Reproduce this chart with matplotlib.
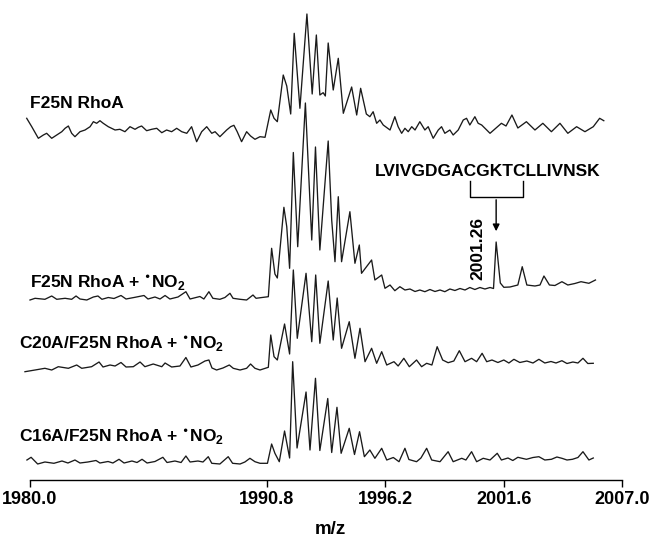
import matplotlib
matplotlib.use('Agg')
import matplotlib.pyplot as plt

plt.rcParams['font.family'] = ['Liberation Sans', 'DejaVu Sans']
plt.rcParams['mathtext.default'] = 'regular'

tick_mz = [1980.0, 1990.8, 1996.2, 2001.6, 2007.0]

# F25N RhoA
mz_a = [1979.85, 1980.08, 1980.38, 1980.61, 1980.76, 1980.99, 1981.22, 1981.45, 1981.60, 1981.75,
        1981.90, 1982.05, 1982.28, 1982.51, 1982.74, 1982.89, 1983.04, 1983.19, 1983.34, 1983.57,
        1983.88, 1984.10, 1984.33, 1984.56, 1984.79, 1984.94, 1985.09, 1985.32, 1985.55, 1985.78,
        1986.01, 1986.23, 1986.46, 1986.69, 1986.92, 1987.15, 1987.37, 1987.60, 1987.83, 1988.06,
        1988.29, 1988.44, 1988.66, 1988.97, 1989.15, 1989.30, 1989.45, 1989.65, 1989.88, 1990.06,
        1990.26, 1990.49, 1990.72, 1990.98, 1991.13, 1991.28, 1991.55, 1991.71, 1991.89, 1992.05,
        1992.31, 1992.63, 1992.87, 1993.06, 1993.22, 1993.37, 1993.47, 1993.60, 1993.83, 1994.06,
        1994.29, 1994.67, 1994.90, 1995.08, 1995.34, 1995.50, 1995.65, 1995.81, 1995.96, 1996.11,
        1996.42, 1996.64, 1996.79, 1996.95, 1997.10, 1997.25, 1997.41, 1997.56, 1997.78, 1998.01,
        1998.16, 1998.39, 1998.62, 1998.77, 1998.92, 1999.15, 1999.30, 1999.53, 1999.76, 1999.91,
        2000.06, 2000.29, 2000.44, 2000.60, 2000.83, 2000.98, 2001.50, 2001.71, 2001.98, 2002.25,
        2002.64, 2003.03, 2003.39, 2003.78, 2004.17, 2004.53, 2004.93, 2005.31, 2005.69, 2005.98,
        2006.17]
int_a = [23.7, 15.3, 3.7, 7, 8.7, 3.7, 7, 10.3, 13.7, 16,
         8.7, 5.3, 10.3, 12, 15.3, 20.3, 18.7, 21.3, 18.7, 15.3,
         12, 12.7, 10.3, 15.3, 12.7, 14.7, 16, 11.3, 12.7, 13.7,
         9.3, 12, 10.3, 13.7, 10.3, 8.7, 15.3, 0.3, 10.3, 15.3,
         8.7, 10.3, 5.3, 12, 15.3, 16.7, 10.3, 0.3, 10.3, 6,
         2.7, 5.3, 4.7, 32, 23.7, 20.3, 67, 56, 28, 108.7,
         33.7, 128, 48, 107, 47, 49.3, 46, 99, 52, 83.7,
         28.7, 55, 27, 53.7, 28, 25.3, 30.3, 18.7, 22, 17,
         12, 25.3, 15.3, 8.7, 13.7, 10.3, 15.3, 12, 20.3, 12,
         15.3, 3.7, 12, 15.3, 8.7, 12, 7, 12, 22, 23.7,
         17, 25.3, 18.7, 17, 12, 8.7, 18.7, 16, 27, 14,
         20.3, 12, 18.7, 10.3, 18.7, 8.7, 15.3, 10.3, 15.3, 23.7,
         21.3]

# F25N RhoA + NO2
mz_b = [1980.00, 1980.23, 1980.68, 1980.99, 1981.22, 1981.60, 1981.90, 1982.10, 1982.28, 1982.59,
        1982.89, 1983.10, 1983.28, 1983.57, 1983.83, 1984.15, 1984.38, 1984.79, 1985.20, 1985.38,
        1985.70, 1985.93, 1986.16, 1986.38, 1986.75, 1987.11, 1987.30, 1987.75, 1987.93, 1988.16,
        1988.34, 1988.66, 1988.89, 1989.12, 1989.26, 1989.58, 1989.88, 1990.17, 1990.31, 1990.58,
        1990.87, 1991.02, 1991.17, 1991.28, 1991.58, 1991.71, 1991.84, 1992.01, 1992.21, 1992.56,
        1992.85, 1993.02, 1993.22, 1993.60, 1993.76, 1993.91, 1994.06, 1994.21, 1994.59, 1994.82,
        1995.02, 1995.12, 1995.58, 1995.73, 1996.04, 1996.19, 1996.42, 1996.64, 1996.87, 1997.10,
        1997.33, 1997.56, 1997.78, 1998.01, 1998.24, 1998.47, 1998.70, 1998.92, 1999.15, 1999.38,
        1999.61, 1999.84, 2000.06, 2000.29, 2000.52, 2000.75, 2000.98, 2001.14, 2001.26, 2001.45,
        2001.61, 2001.89, 2002.25, 2002.45, 2002.66, 2003.03, 2003.26, 2003.44, 2003.69, 2003.94,
        2004.26, 2004.53, 2004.85, 2005.13, 2005.49, 2005.79]
int_b = [0, 1.7, 0.7, 4, 0.7, 1.7, 0.7, 4, 1, 0,
         3, 4, 0.7, 2.5, 1.5, 4.5, 1, 2.7, 4.5, 1,
         3, 1, 4.5, 1, 3, 8.3, 1, 3.5, 1, 8.3,
         1.7, 0.7, 2.5, 6.7, 1.7, 0.7, 0, 5, 1.7, 2.5,
         3.3, 51.7, 26, 22, 92.7, 73.3, 31.7, 147.5, 53.3, 197,
         60, 153, 50, 159, 80, 38.3, 103.3, 38.3, 88.3, 36.7,
         55, 26.7, 40, 20, 25, 11.7, 15, 9.3, 13.3, 10,
         11, 8.5, 10, 8.3, 10.5, 8.5, 10, 8.3, 11, 9.5,
         11.5, 10, 12.5, 10.5, 12.5, 11, 12.5, 11.5, 58, 17,
         12.7, 13, 15, 33.3, 15, 14, 15, 24, 15, 14.5,
         18.3, 15, 16.5, 18.3, 16.7, 20]

# C20A/F25N RhoA + NO2
mz_c = [1979.77, 1980.23, 1980.68, 1980.99, 1981.29, 1981.75, 1982.13, 1982.36, 1982.81, 1983.15,
        1983.33, 1983.65, 1983.88, 1984.15, 1984.38, 1984.71, 1985.02, 1985.24, 1985.62, 1986.01,
        1986.16, 1986.46, 1986.84, 1987.11, 1987.34, 1987.66, 1987.98, 1988.16, 1988.30, 1988.51,
        1988.80, 1989.09, 1989.27, 1989.58, 1989.88, 1990.06, 1990.26, 1990.49, 1990.87, 1990.98,
        1991.13, 1991.28, 1991.61, 1991.84, 1992.01, 1992.19, 1992.59, 1992.85, 1993.03, 1993.22,
        1993.60, 1993.83, 1994.01, 1994.21, 1994.56, 1994.82, 1995.05, 1995.28, 1995.58, 1995.81,
        1996.04, 1996.27, 1996.60, 1996.79, 1997.05, 1997.30, 1997.63, 1997.86, 1998.09, 1998.33,
        1998.57, 1998.82, 1999.07, 1999.33, 1999.58, 1999.84, 2000.14, 2000.37, 2000.62, 2000.83,
        2001.07, 2001.34, 2001.61, 2001.84, 2002.07, 2002.34, 2002.66, 2002.94, 2003.21, 2003.48,
        2003.76, 2003.99, 2004.26, 2004.49, 2004.76, 2004.99, 2005.22, 2005.44, 2005.69]
int_c = [-3.7, -2, -0.3, -2, 1.3, -0.3, 3, -0.3, 1.3, 6,
         1, 3, 2, 5.5, 1, 1.3, 6, 1.3, 4, 1.3,
         5, 1, 2, 10.5, 1, 3, 7, 8, 0, -2,
         0, 3, -0.3, -2, -0.3, 4, -0.3, -2, 0.7, 33,
         11.3, 8, 44, 14, 98, 29.7, 94.7, 26.3, 93, 24.7,
         87, 28, 70, 19.7, 46.3, 9.7, 39.7, 6.3, 19.7, 4.7,
         16.3, 3, 6.3, 2, 9.7, 1.3, 8, 1.3, 4.7, 3,
         21.3, 8, 5.3, 7, 17.3, 6.3, 9.7, 6.3, 14.7, 6.3,
         8, 5.5, 8, 5, 8.7, 5.5, 7, 5, 8.7, 5,
         6.5, 5, 7.3, 4.5, 6, 5, 9.7, 4.5, 4.7]

# C16A/F25N RhoA + NO2
mz_d = [1979.86, 1980.05, 1980.35, 1980.68, 1981.09, 1981.46, 1981.73, 1982.05, 1982.28, 1982.64,
        1983.01, 1983.19, 1983.56, 1983.78, 1984.06, 1984.29, 1984.65, 1984.88, 1985.11, 1985.34,
        1985.70, 1986.06, 1986.25, 1986.61, 1986.89, 1987.11, 1987.30, 1987.66, 1987.89, 1988.13,
        1988.29, 1988.66, 1989.04, 1989.24, 1989.58, 1989.80, 1990.03, 1990.26, 1990.49, 1990.83,
        1991.02, 1991.17, 1991.37, 1991.61, 1991.84, 1991.98, 1992.18, 1992.59, 1992.77, 1993.02,
        1993.22, 1993.58, 1993.76, 1994.00, 1994.19, 1994.56, 1994.80, 1995.03, 1995.25, 1995.50,
        1995.73, 1996.04, 1996.27, 1996.57, 1996.83, 1997.10, 1997.28, 1997.63, 1997.83, 1998.09,
        1998.32, 1998.70, 1999.07, 1999.30, 1999.69, 1999.88, 2000.14, 2000.37, 2000.67, 2000.98,
        2001.31, 2001.50, 2001.80, 2002.02, 2002.25, 2002.64, 2002.94, 2003.21, 2003.48, 2003.78,
        2004.03, 2004.26, 2004.49, 2004.74, 2004.99, 2005.22, 2005.36, 2005.49, 2005.69]
int_d = [4, 6.7, 0, 2, 0.7, 3, 1, 4, 1, 2,
         3.5, 1, 2.5, 1, 4.7, 1, 3, 1.5, 4.7, 1,
         2.5, 6.7, 1.5, 3, 1.5, 8, 2, 3, 2, 7.3,
         0.7, 0, 7.3, 0.7, 0, 2, 5.7, 2.3, 0.7, 0.7,
         20, 10.7, 2.3, 33, 6, 102.3, 16, 72, 14, 85.7,
         13.5, 65.5, 11.5, 56.7, 10.7, 35.7, 9.5, 32.3, 7.3, 14,
         5.7, 15.7, 4, 6.5, 2.3, 15.7, 4.5, 2.3, 6, 15.7,
         4, 2.3, 12.3, 2.3, 5.7, 4, 12.3, 2.3, 5.7, 4,
         10.7, 4, 6, 3.5, 6.7, 4.7, 6.5, 7.3, 4, 4.7,
         7, 5.7, 4, 4.7, 6.5, 12.3, 8, 4, 6]

names = ['F25N RhoA',
         'F25N RhoA + $^{\u2022}$NO$_2$',
         'C20A/F25N RhoA + $^{\u2022}$NO$_2$',
         'C16A/F25N RhoA + $^{\u2022}$NO$_2$']

peptide = 'LVIVGDGACGKTCLLIVNSK'
peak_mz = 2001.26

fig = plt.figure(figsize=(6.52, 5.44), dpi=100)
ax = fig.add_axes([30 / 652, 64 / 544, 592 / 652, 480 / 544])

traces = [(mz_a, int_a), (mz_b, int_b), (mz_c, int_c), (mz_d, int_d)]
offsets = [338, 180, 112, 16]
label_x = [1980.0, 1980.0, 1979.5, 1979.5]
label_y = [372, 192, 131, 38]

for (x, y), off, name, lx, ly in zip(traces, offsets, names, label_x, label_y):
    ax.plot(x, [v + off for v in y], color='#1a1a1a', linewidth=0.95, clip_on=False,
            solid_joinstyle='round')
    ax.text(lx, ly, name, fontsize=12.5, fontweight='bold', ha='left', va='baseline')

# peptide annotation
ax.text(1995.73, 304, peptide, fontsize=12.5, fontweight='bold', ha='left', va='baseline')
ax.plot([2000.06, 2000.06, 2002.50, 2002.50], [299, 283, 283, 299], color='black', linewidth=1)
ax.annotate('', xy=(peak_mz, 246), xytext=(peak_mz, 283),
            arrowprops=dict(arrowstyle='-|>', color='black', lw=1, mutation_scale=10))
ax.text(2000.43, 232, '%.2f' % peak_mz, rotation=90, fontsize=12.5, fontweight='bold',
        ha='center', va='center')

ax.set_xlim(1980, 2007)
ax.set_ylim(0, 480)
for s in ['top', 'right', 'left']:
    ax.spines[s].set_visible(False)
ax.spines['bottom'].set_linewidth(1)
ax.set_yticks([])
ax.set_xticks(tick_mz)
ax.set_xticklabels(['%.1f' % t for t in tick_mz], fontsize=13, fontweight='bold')
ax.tick_params(axis='x', direction='out', length=5, width=1, pad=3)
ax.set_xlabel('m/z', fontsize=13.5, fontweight='bold')
ax.xaxis.set_label_coords(0.508, -0.085)
ax.patch.set_alpha(0)

fig.savefig('out.png', dpi=100)
